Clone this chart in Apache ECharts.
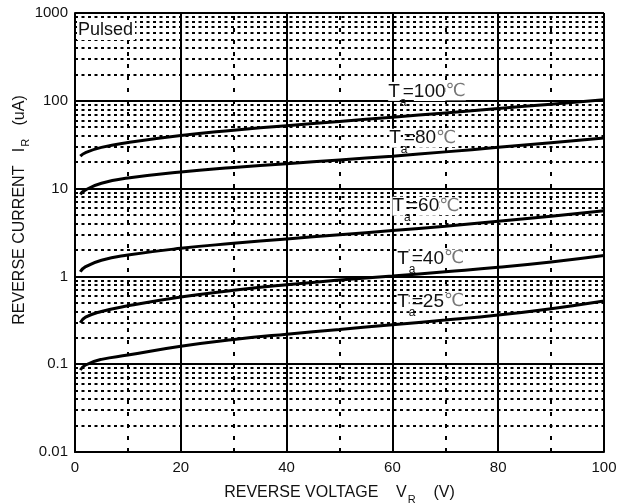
<!DOCTYPE html>
<html><head><meta charset="utf-8">
<script src="https://cdn.jsdelivr.net/npm/echarts@6/dist/echarts.min.js"></script>
<style>html,body{margin:0;padding:0;background:#fff}#c{width:630px;height:504px}</style>
</head><body><div id="c"></div>
<script>
// ---- data ----
const voltages   = [1, 2, 5, 10, 20, 30, 40, 50, 60, 70, 80, 90, 100];
const current100 = [23.4, 25.7, 29.5, 33.5, 40.3, 46.2, 52.1, 58.2, 65.0, 72.8, 81.7, 91.6, 103];
const current80  = [8.6, 9.66, 11.5, 13.2, 15.5, 17.4, 19.2, 21.2, 23.4, 26.2, 29.5, 33.3, 37.7];
const current60  = [1.13, 1.29, 1.53, 1.75, 2.09, 2.38, 2.67, 2.98, 3.33, 3.73, 4.24, 4.85, 5.6];
const current40  = [0.297, 0.343, 0.398, 0.462, 0.582, 0.695, 0.803, 0.908, 1.01, 1.13, 1.27, 1.46, 1.73];
const current25  = [0.086, 0.098, 0.1135, 0.127, 0.160, 0.191, 0.220, 0.249, 0.282, 0.318, 0.363, 0.429, 0.525];
const tempLabels = ['100', '80', '60', '40', '25'];
const xTickLabels = ['0', '20', '40', '60', '80', '100'];
const yTickLabels = ['0.01', '0.1', '1', '10', '100', '1000'];
const minorXLines = [10, 30, 50, 70, 90];
const decades = [0.01, 0.1, 1, 10, 100];

// label anchor points (data coords) for the temperature annotations
const labelAnchors = [[59.2, 128], [59.4, 37.5], [60.0, 6.3], [60.9, 1.6], [60.9, 0.515]];

const FONT = "'Liberation Sans', Arial, sans-serif";
const minorYLines = [];
decades.forEach(d => { for (let k = 2; k <= 9; k++) minorYLines.push(+(k * d).toPrecision(3)); });

const curves = [current100, current80, current60, current40, current25];

const labelRich = {
  t: { fontSize: 19, fontFamily: FONT, color: '#111', lineHeight: 22, backgroundColor: '#fff' },
  e: { fontSize: 19, fontFamily: FONT, color: '#111', lineHeight: 22 },
  s: { fontSize: 12, fontFamily: FONT, color: '#111', lineHeight: 12, width: 3, padding: [22, 0, 0, 0] },
  c: { fontSize: 18, fontFamily: "'DejaVu Sans', sans-serif", color: '#777', lineHeight: 22, backgroundColor: '#fff' }
};

const series = [
  { type: 'line', data: [], silent: true, z: 1,
    markLine: { silent: true, symbol: 'none', animation: false, z: 1, label: { show: false },
      lineStyle: { color: '#000', type: [3, 3.5], width: 2 },
      data: minorYLines.map(v => ({ yAxis: v })) } },
  { type: 'line', data: [], silent: true, z: 1,
    markLine: { silent: true, symbol: 'none', animation: false, z: 1, label: { show: false },
      lineStyle: { color: '#000', type: [4, 8], width: 2 },
      data: minorXLines.map(v => ({ xAxis: v })) } }
];
curves.forEach((arr, i) => {
  series.push({
    type: 'line', z: 3, showSymbol: false, smooth: 0.5,
    lineStyle: { color: '#000', width: 3 },
    data: voltages.map((v, j) => [v, arr[j]]),
    markPoint: {
      symbol: 'circle', symbolSize: 0, silent: true, animation: false, z: 6,
      label: { show: true, position: 'right', distance: 0,
        formatter: '{t|T}{s|a}{e|=}{t|' + tempLabels[i] + '}{c|℃}', rich: labelRich },
      data: [{ coord: labelAnchors[i] }]
    }
  });
});

const chart = echarts.init(document.getElementById('c'), null, { renderer: 'canvas' });
chart.setOption({
  animation: false,
  backgroundColor: '#fff',
  grid: { left: 75, right: 26, top: 13, bottom: 52, containLabel: false, outerBoundsMode: 'none' },
  xAxis: {
    type: 'value', min: 0, max: 100, interval: 20,
    axisLine: { show: true, lineStyle: { color: '#000', width: 2 } },
    axisTick: { show: false },
    splitLine: { show: true, lineStyle: { color: '#000', width: 2 } },
    axisLabel: { color: '#111', fontSize: 15, fontFamily: FONT, margin: 8,
      formatter: v => xTickLabels[Math.round(v / 20)] },
    name: '{n|REVERSE VOLTAGE    V}{s|R}{n|    (V)}',
    nameLocation: 'middle', nameGap: 31,
    nameTextStyle: { rich: {
      n: { fontSize: 16, fontFamily: FONT, color: '#111', lineHeight: 18 },
      s: { fontSize: 11, fontFamily: FONT, color: '#111', lineHeight: 11, padding: [15, 0, 0, 1] } } }
  },
  yAxis: {
    type: 'log', logBase: 10, min: 0.01, max: 1000,
    axisLine: { show: true, lineStyle: { color: '#000', width: 2 } },
    axisTick: { show: false },
    minorTick: { show: false }, minorSplitLine: { show: false },
    splitLine: { show: true, lineStyle: { color: '#000', width: 2 } },
    axisLabel: { color: '#111', fontSize: 15, fontFamily: FONT, margin: 7,
      formatter: v => yTickLabels[Math.round(Math.log10(v)) + 2] }
  },
  graphic: [
    { type: 'text', x: 20, y: 210, rotation: Math.PI / 2, z: 10,
      style: { text: '{n|REVERSE CURRENT   I}{s|R}{n|   (uA)}', align: 'center', verticalAlign: 'middle',
        rich: {
          n: { fontSize: 16, fontFamily: FONT, fill: '#111', lineHeight: 18 },
          s: { fontSize: 11, fontFamily: FONT, fill: '#111', lineHeight: 11, padding: [12, 0, 0, 1] } } } },
    { type: 'text', left: 77, top: 20, z: 10,
      style: { text: 'Pulsed', fontSize: 18, fontFamily: FONT, fill: '#111', backgroundColor: '#fff', padding: [1, 2, 1, 1] } }
  ],
  series: series
});
</script></body></html>
